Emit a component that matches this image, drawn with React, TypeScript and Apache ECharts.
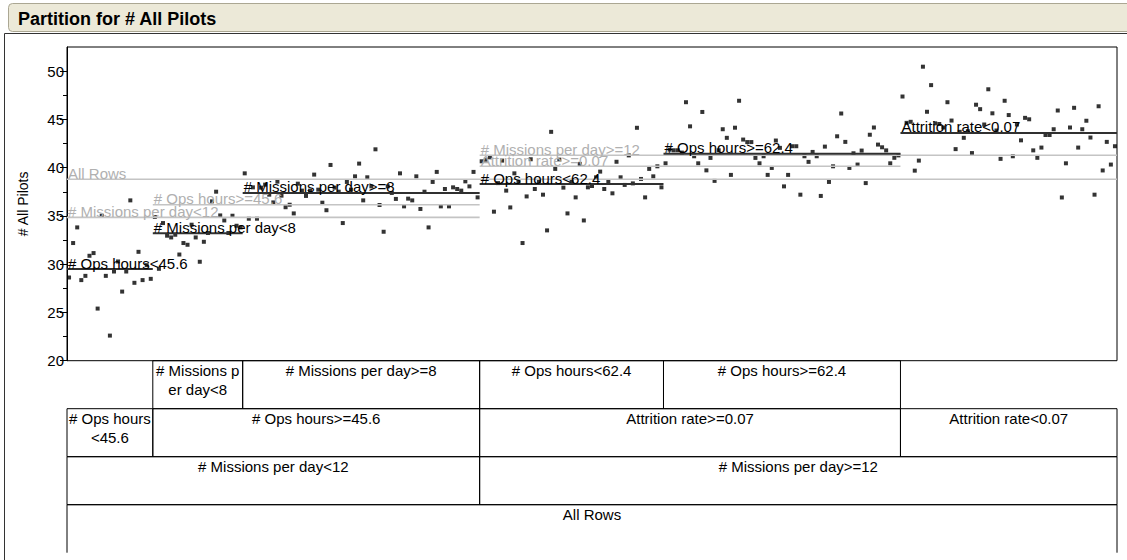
import React, { useEffect, useRef } from "react";
import * as echarts from "echarts";

// ---------------- data ----------------
const LEAF_COUNTS = [21, 22, 58, 45, 58, 53];

const OPS_HOURS_LT_45_6 = [28.62, 32.19, 33.81, 28.35, 28.79, 30.87, 31.15, 25.4, 35.02, 28.79, 22.6, 29.24, 30.28, 27.16, 29.24, 36.61, 28.07, 31.28, 28.35, 29.9, 28.48];
const MISSIONS_LT_8 = [34.89, 29.52, 34.26, 32.95, 32.77, 33.05, 31.0, 32.19, 32.01, 34.09, 32.77, 30.25, 32.32, 33.23, 36.51, 37.51, 35.05, 34.53, 33.23, 35.02, 33.98, 33.81];
const MISSIONS_GE_8 = [39.41, 34.71, 37.96, 34.71, 37.93, 38.24, 37.2, 36.4, 38.55, 37.1, 35.9, 36.16, 35.26, 38.34, 37.62, 37.07, 37.62, 39.28, 37.72, 36.37, 35.59, 40.28, 37.93, 37.51, 34.26, 38.52, 37.72, 39.1, 40.42, 36.61, 39.0, 38.06, 41.9, 36.13, 33.36, 38.06, 37.38, 36.76, 39.41, 35.99, 36.79, 36.61, 39.1, 35.72, 37.51, 33.81, 38.52, 39.56, 35.99, 37.79, 35.99, 37.96, 37.79, 37.62, 38.58, 38.06, 39.56, 36.92];
const OPS_HOURS_LT_62_4 = [40.66, 40.83, 41.07, 35.44, 38.4, 40.73, 37.62, 35.88, 39.41, 38.58, 32.19, 37.02, 40.87, 37.79, 38.52, 37.2, 33.5, 43.71, 39.87, 40.83, 37.93, 35.26, 38.58, 36.92, 40.39, 34.53, 37.96, 38.1, 39.0, 39.59, 37.79, 38.58, 37.34, 40.61, 39.0, 38.21, 41.27, 38.37, 44.13, 38.83, 36.92, 39.87, 39.1, 40.14, 37.96];
const OPS_HOURS_GE_62_4 = [40.45, 41.87, 41.8, 41.8, 41.56, 46.78, 44.28, 41.18, 40.45, 45.77, 39.72, 41.01, 38.63, 41.8, 43.98, 43.09, 39.25, 44.14, 46.93, 42.91, 42.65, 42.65, 41.01, 40.45, 41.18, 39.25, 39.97, 42.81, 42.05, 38.06, 39.25, 42.22, 42.22, 37.2, 41.18, 40.6, 41.63, 41.18, 37.07, 42.18, 38.52, 40.14, 43.25, 45.61, 42.67, 39.97, 41.49, 40.32, 41.77, 38.4, 43.41, 44.16, 42.39, 42.11, 41.79, 40.45, 41.02, 41.27];
const ATTRITION_LT_0_07 = [47.37, 44.64, 44.75, 39.69, 40.73, 50.46, 45.79, 48.55, 44.59, 44.52, 44.16, 46.78, 44.88, 41.92, 43.71, 43.09, 43.77, 41.51, 46.52, 46.06, 44.47, 48.12, 45.63, 43.85, 40.91, 46.93, 45.45, 41.18, 44.47, 42.83, 45.16, 45.01, 41.79, 41.02, 42.08, 43.38, 43.38, 43.98, 45.92, 36.91, 40.45, 44.16, 46.2, 42.08, 43.98, 44.86, 43.12, 37.2, 46.36, 39.71, 42.67, 40.32, 42.22];

const LEAF_VALUES = [OPS_HOURS_LT_45_6, MISSIONS_LT_8, MISSIONS_GE_8, OPS_HOURS_LT_62_4, OPS_HOURS_GE_62_4, ATTRITION_LT_0_07];

const NODE_LABELS = ["All Rows", "# Missions per day<12", "# Missions per day>=12", "# Ops hours<45.6", "# Ops hours>=45.6", "Attrition rate>=0.07", "Attrition rate<0.07", "# Missions per day<8", "# Missions per day>=8", "# Ops hours<62.4", "# Ops hours>=62.4"];
const NODE_MEANS = [38.8, 34.85, 41.28, 29.5, 36.16, 40.14, 43.6, 33.2, 37.38, 38.3, 41.43];
const NODE_FIRST_LEAF = [0, 0, 3, 0, 1, 3, 5, 1, 2, 3, 4];
const NODE_LAST_LEAF = [5, 2, 5, 0, 2, 4, 5, 1, 2, 3, 4];
const NODE_DEPTH = [0, 1, 1, 2, 2, 2, 2, 3, 3, 3, 3];
const NODE_IS_LEAF = [false, false, false, true, false, false, true, true, true, true, true];

const Y_TICKS = [20, 25, 30, 35, 40, 45, 50];
const Y_MINOR_TICKS = [22.5, 27.5, 32.5, 37.5, 42.5, 47.5];

const TITLE = "Partition for # All Pilots";
const Y_NAME = "# All Pilots";

// ---------------- helpers ----------------
const FONT = "'Liberation Sans', Arial, sans-serif";
const TOTAL = LEAF_COUNTS.reduce((a, b) => a + b, 0);
const LEAF_START = LEAF_COUNTS.map((_, k) => LEAF_COUNTS.slice(0, k).reduce((a, b) => a + b, 0));
const nodeX0 = (i: number) => LEAF_START[NODE_FIRST_LEAF[i]];
const nodeX1 = (i: number) => LEAF_START[NODE_LAST_LEAF[i]] + LEAF_COUNTS[NODE_LAST_LEAF[i]];
const MAX_DEPTH = 3;

export default function App() {
  const ref = useRef<HTMLDivElement>(null);

  useEffect(() => {
    if (!ref.current) return;
    const chart = echarts.init(ref.current, undefined, { renderer: "svg" });

    const points = LEAF_VALUES.flatMap((vals, k) => vals.map((v, i) => [LEAF_START[k] + i + 0.5, v]));
    const nodeData = NODE_LABELS.map((_, i) => [nodeX0(i), nodeX1(i), NODE_MEANS[i]]);
    const cellData = NODE_LABELS.map((_, i) => [nodeX0(i), nodeX1(i), MAX_DEPTH - NODE_DEPTH[i]]);

    const option: any = {
      animation: false,
      textStyle: { fontFamily: FONT },
      title: {
        text: TITLE,
        left: 18,
        top: 10,
        padding: 0,
        textStyle: { fontSize: 18, fontWeight: "bold", color: "#000", fontFamily: FONT },
        z: 10,
      },
      graphic: [
        {
          type: "rect",
          z: -10,
          shape: { x: 8.5, y: 3.5, width: 1130, height: 28, r: 4 },
          style: { fill: "#ECE9D8", stroke: "#ABA793", lineWidth: 1 },
        },
        {
          type: "polyline",
          shape: { points: [[4.5, 560], [4.5, 33.5], [1127, 33.5]] },
          style: { stroke: "#333", lineWidth: 1, fill: "none" },
        },
      ],
      grid: [
        { left: 67, top: 47, width: 1050, height: 313.7, show: true, borderColor: "#000", borderWidth: 1, backgroundColor: "transparent" },
        { left: 67, top: 360.7, width: 1050, height: 192, show: false },
      ],
      xAxis: [
        { gridIndex: 0, type: "value", min: 0, max: TOTAL, show: false },
        { gridIndex: 1, type: "value", min: 0, max: TOTAL, show: false },
      ],
      yAxis: [
        {
          gridIndex: 0,
          type: "value",
          min: 20,
          max: 52.5,
          interval: 5,
          position: "left",
          name: Y_NAME,
          nameLocation: "middle",
          nameGap: 37,
          nameTextStyle: { fontSize: 14, color: "#000", fontFamily: FONT },
          axisLine: { show: true, lineStyle: { color: "#000", width: 1 } },
          axisTick: { show: true, length: 7, customValues: Y_TICKS, lineStyle: { color: "#000" } },
          axisLabel: { customValues: Y_TICKS, fontSize: 15, color: "#000", margin: 3, fontFamily: FONT },
          splitLine: { show: false },
        },
        {
          gridIndex: 0,
          type: "value",
          min: 20,
          max: 52.5,
          position: "left",
          axisLine: { show: false },
          axisTick: { show: true, length: 4, customValues: Y_MINOR_TICKS, lineStyle: { color: "#000" } },
          axisLabel: { show: false },
          splitLine: { show: false },
        },
        { gridIndex: 1, type: "value", min: 0, max: MAX_DEPTH + 1, inverse: true, show: false },
      ],
      series: [
        {
          type: "scatter",
          xAxisIndex: 0,
          yAxisIndex: 0,
          data: points,
          symbol: "rect",
          symbolSize: 4,
          itemStyle: { color: "#000" },
          silent: true,
          z: 2,
        },
        {
          type: "custom",
          xAxisIndex: 0,
          yAxisIndex: 0,
          data: nodeData,
          z: 3,
          silent: true,
          renderItem: (params: any, api: any) => {
            const i = params.dataIndex;
            const a = api.coord([api.value(0), api.value(2)]);
            const b = api.coord([api.value(1), api.value(2)]);
            const leaf = NODE_IS_LEAF[i];
            return {
              type: "group",
              children: [
                {
                  type: "line",
                  shape: { x1: a[0], y1: a[1], x2: b[0], y2: b[1] },
                  style: { stroke: leaf ? "#303030" : "#c4c4c4", lineWidth: leaf ? 2 : 1.6 },
                },
                {
                  type: "text",
                  x: a[0] + 1,
                  y: a[1] - 6,
                  style: {
                    text: NODE_LABELS[i],
                    fill: leaf ? "#000" : "#b0b0b0",
                    fontSize: 15,
                    fontFamily: FONT,
                    align: "left",
                    verticalAlign: "middle",
                  },
                },
              ],
            };
          },
        },
        {
          type: "custom",
          xAxisIndex: 1,
          yAxisIndex: 2,
          data: cellData,
          z: 3,
          silent: true,
          renderItem: (params: any, api: any) => {
            const i = params.dataIndex;
            const tl = api.coord([api.value(0), api.value(2)]);
            const br = api.coord([api.value(1), api.value(2) + 1]);
            const w = br[0] - tl[0];
            const h = br[1] - tl[1];
            const border =
              NODE_DEPTH[i] === 0
                ? {
                    type: "polyline",
                    shape: { points: [[tl[0], br[1]], [tl[0], tl[1]], [br[0], tl[1]], [br[0], br[1]]] },
                    style: { fill: "none", stroke: "#000", lineWidth: 1 },
                  }
                : {
                    type: "rect",
                    shape: { x: tl[0], y: tl[1], width: w, height: h },
                    style: { fill: "none", stroke: "#000", lineWidth: 1 },
                  };
            return {
              type: "group",
              children: [
                border,
                {
                  type: "text",
                  x: tl[0] + w / 2,
                  y: tl[1],
                  style: {
                    text: NODE_LABELS[i],
                    fill: "#000",
                    fontSize: 15,
                    fontFamily: FONT,
                    align: "center",
                    verticalAlign: "top",
                    width: w - 1,
                    overflow: "breakAll",
                    lineHeight: 19,
                  },
                },
              ],
            };
          },
        },
      ],
    };

    chart.setOption(option);
    return () => chart.dispose();
  }, []);

  return (
    <div
      ref={ref}
      style={{ position: "fixed", left: 0, top: 0, width: 1127, height: 560, background: "#fff" }}
    />
  );
}
